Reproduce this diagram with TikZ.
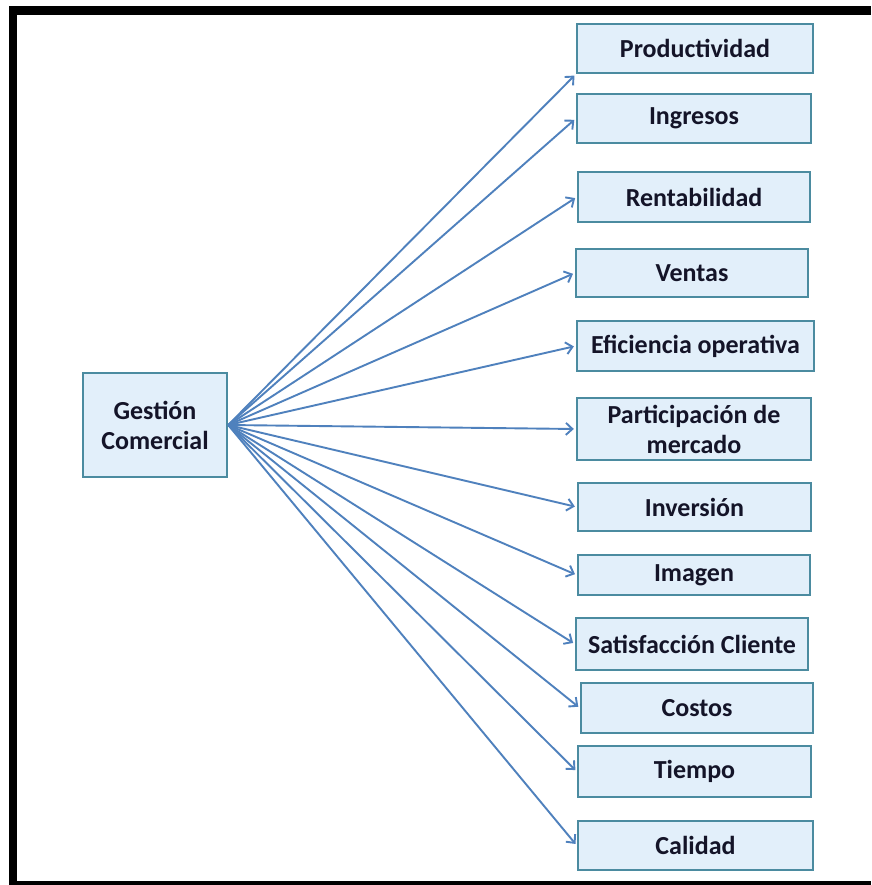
\documentclass[tikz,border=0pt]{standalone}
\usepackage{fontspec}
\setmainfont{Carlito}
\usetikzlibrary{arrows.meta}
\definecolor{boxfill}{HTML}{E2EFFA}
\definecolor{boxline}{HTML}{4B8BA0}
\definecolor{arrowblue}{HTML}{4F81BD}
\definecolor{textdark}{HTML}{141428}
\begin{document}
\begin{tikzpicture}[x=1pt,y=-1pt,
  box/.style={draw=boxline, line width=2.4pt, fill=boxfill, inner sep=0pt,
    text=textdark, font=\fontsize{26}{30}\selectfont\bfseries, align=center},
  arr/.style={draw=arrowblue, line width=1.9pt, shorten >=2pt,
    -{Straight Barb[length=6.5pt,width=12pt]}}]
  % page and frame (open on the right)
  \fill[white] (0,0) rectangle (871,885);
  \useasboundingbox (0,0) rectangle (871,885);
  \fill[black] (9,6) rectangle (871,15);
  \fill[black] (9,6) rectangle (17,885);
  \fill[black] (9,881) rectangle (871,885);
  % source
  \node[box, minimum width=144pt, minimum height=104pt] (src) at (155,425) {Gestión\\Comercial};
  % targets
  \node[box, minimum width=236pt, minimum height=49pt] (t1) at (695,48.5) {Productividad};
  \node[box, minimum width=234pt, minimum height=49pt] (t2) at (694,118.5) {Ingresos};
  \node[box, minimum width=232pt, minimum height=50pt] (t3) at (694,197) {Rentabilidad};
  \node[box, minimum width=232pt, minimum height=48pt] (t4) at (692,273) {Ventas};
  \node[box, minimum width=237pt, minimum height=50pt] (t5) at (695.5,346) {Eficiencia operativa};
  \node[box, minimum width=234pt, minimum height=62pt] (t6) at (694,429) {Participación de\\mercado};
  \node[box, minimum width=233pt, minimum height=48pt] (t7) at (694.5,507) {Inversión};
  \node[box, minimum width=232pt, minimum height=40pt] (t8) at (694,575) {Imagen};
  \node[box, minimum width=232pt, minimum height=52pt] (t9) at (692,644) {Satisfacción Cliente};
  \node[box, minimum width=232pt, minimum height=50pt] (t10) at (697,708) {Costos};
  \node[box, minimum width=233pt, minimum height=51pt] (t11) at (694.5,771.5) {Tiempo};
  \node[box, minimum width=235pt, minimum height=49pt] (t12) at (695.5,845.5) {Calidad};
  % connectors
  \coordinate (o) at (src.east);
  \draw[arr] (o) -- (t1.south west);
  \foreach \t in {t2,t3,t4,t5,t6,t7,t8,t9,t10,t11,t12}
    \draw[arr] (o) -- (\t.west);
\end{tikzpicture}
\end{document}
